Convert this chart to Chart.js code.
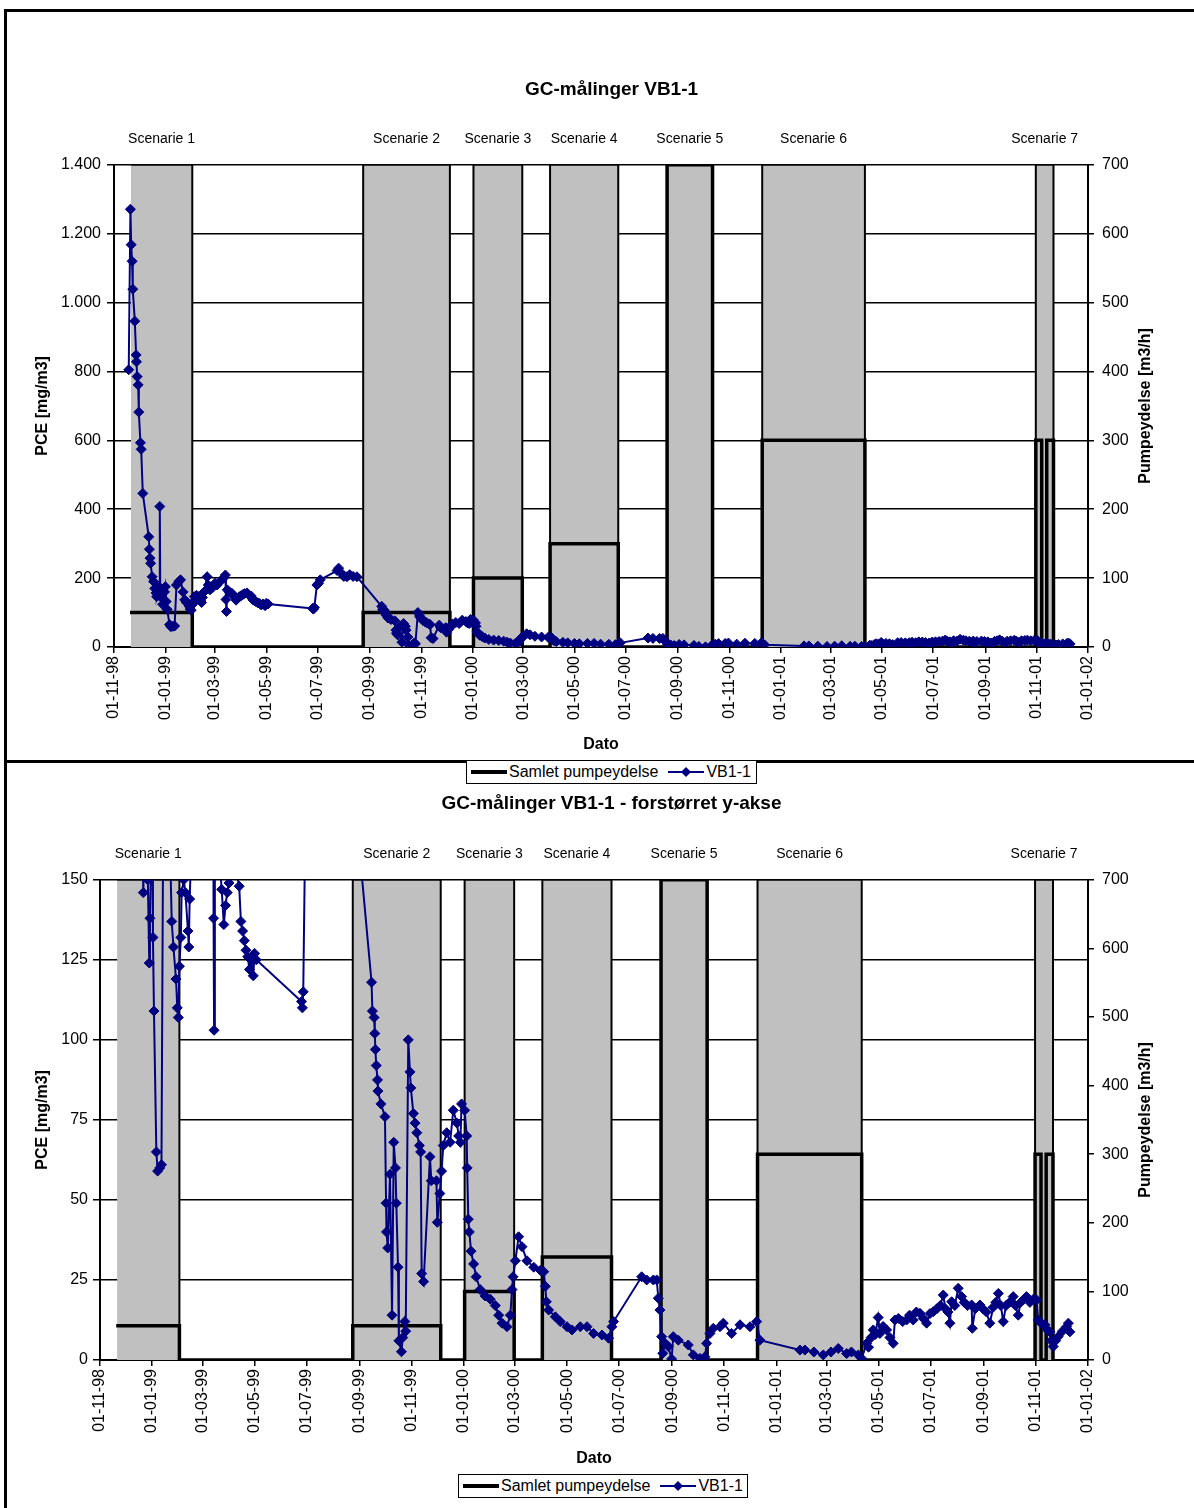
<!DOCTYPE html>
<html>
<head>
<meta charset="utf-8">
<script src="https://cdn.jsdelivr.net/npm/chart.js@4/dist/chart.umd.min.js"></script>
<style>
  body { margin: 0; width: 1194px; height: 1508px; overflow: hidden; background: #fff; position: relative; }
  .frame { position: absolute; left: 4px; width: 1300px; border-top: 3px solid #000; border-left: 3px solid #000; }
  canvas { position: absolute; left: 0; z-index: 1; }
  .legend {
    position: absolute; z-index: 2; box-sizing: border-box; height: 24px;
    border: 1px solid #000; background: #fff; display: flex; align-items: center;
    padding: 0 4px; font: 16px "Liberation Sans", Arial, sans-serif; white-space: nowrap;
  }
  .legend svg { margin-right: 2px; }
  .legend .key + .key { margin-left: 10px; }
  .key { display: flex; align-items: center; }
</style>
</head>
<body>
<div class="frame" style="top:9px;height:748px"></div>
<div class="frame" style="top:760px;height:760px"></div>
<canvas id="mainChart" width="1194" height="760" style="top:0"></canvas>
<canvas id="zoomChart" width="1194" height="746" style="top:762px"></canvas>

<div class="legend" style="left:466px;top:760px;width:291px">
  <span class="key"><svg width="36" height="10"><line x1="0" y1="5" x2="36" y2="5" stroke="#000" stroke-width="4"/></svg>Samlet pumpeydelse</span>
  <span class="key"><svg width="36" height="12"><line x1="0" y1="6" x2="36" y2="6" stroke="#000080" stroke-width="2"/><path d="M18 1 L23 6 L18 11 L13 6 Z" fill="#000080"/></svg>VB1-1</span>
</div>
<div class="legend" style="left:458px;top:1474px;width:290px">
  <span class="key"><svg width="36" height="10"><line x1="0" y1="5" x2="36" y2="5" stroke="#000" stroke-width="4"/></svg>Samlet pumpeydelse</span>
  <span class="key"><svg width="36" height="12"><line x1="0" y1="6" x2="36" y2="6" stroke="#000080" stroke-width="2"/><path d="M18 1 L23 6 L18 11 L13 6 Z" fill="#000080"/></svg>VB1-1</span>
</div>

<script>
// x values are days counted from 01-11-98
const tickDays = [0, 61, 120, 181, 242, 304, 365, 426, 486, 547, 608, 670, 731, 792, 851, 912, 973, 1035, 1096, 1157];
const tickLabels = ['01-11-98', '01-01-99', '01-03-99', '01-05-99', '01-07-99', '01-09-99', '01-11-99',
    '01-01-00', '01-03-00', '01-05-00', '01-07-00', '01-09-00', '01-11-00', '01-01-01', '01-03-01',
    '01-05-01', '01-07-01', '01-09-01', '01-11-01', '01-01-02'];

const scenarioNames = ['Scenarie 1', 'Scenarie 2', 'Scenarie 3', 'Scenarie 4', 'Scenarie 5', 'Scenarie 6', 'Scenarie 7'];
const scenarioStart = [20, 296, 427, 518, 657, 770, 1095];
const scenarioEnd = [93, 399, 485, 599, 711, 892, 1116];

// pumping periods, scenario 7 was run as two pulses
const pumpStart = [19, 296, 427, 518, 657, 770, 1095, 1108];
const pumpEnd = [93, 399, 485, 599, 711, 892, 1102, 1116];
const pumpRate = [50, 50, 100, 150, 700, 300, 300, 300];

// GC measurements VB1-1
const sampleDays = [
    17.5, 19.5, 20.4, 21.5, 22.3, 24.7, 26.3, 26.7, 27.5, 28.7,
    29.5, 31.4, 32.3, 34.2, 41.3, 42.0, 42.8, 43.5, 45.3, 47,
    48.5, 50, 50.7, 52, 53.5, 54.4, 55, 56, 57.7, 58.5,
    60, 61, 62, 63.2, 66, 67.5, 70, 72, 74.2, 77,
    79, 82, 84, 86, 89, 90.5, 91.7, 93, 94.7, 95.6,
    98, 100, 103, 104, 105, 107, 110.6, 112, 114, 117,
    120, 122.5, 126, 130, 132.3, 133, 133.6, 134.5, 137, 140,
    142.5, 145, 147, 149, 151, 153, 155, 158, 160, 163,
    165, 167, 169, 171, 173, 175, 177, 179.5, 181, 183,
    236, 237, 238, 241, 243, 245, 265, 266.8, 270, 273,
    276.7, 280, 284, 288.6, 318, 319, 321, 321.8, 322.5, 323.5,
    325, 325.5, 329, 333.7, 335, 335.5, 337, 339.6, 342, 344,
    346, 347, 349, 350, 353, 354.5, 357, 358, 361, 363,
    364, 367, 369, 371, 374, 375.5, 376.7, 379, 386.4, 388,
    394, 395, 398, 400, 402, 406, 410, 413.7, 418, 420,
    422, 423.4, 427, 429.4, 430, 431.3, 432.5, 434.5, 437.5, 440.5,
    445.2, 451, 457, 462.9, 466.9, 470.8, 476.6, 480.5, 482.5, 483.7,
    486.4, 490.2, 494.2, 500, 507.9, 515.7, 519.6, 521.5, 522.7, 525.4,
    533.2, 539, 546.9, 552.7, 562.4, 570.3, 578, 587.8, 595.6, 599.5,
    601.4, 634.3, 640.2, 648, 652, 653.8, 655.7, 657.7, 659, 661.6,
    665.5, 669.4, 671.3, 677.2, 688.9, 694.8, 702.6, 708.4, 710.4, 714.3,
    718.2, 726, 729.9, 739.7, 749.5, 761.2, 769, 772.8, 819.7, 825.5,
    836, 847, 856, 864.5, 874.4, 880, 888, 892, 897.8, 900,
    903, 905.5, 908, 911.3, 913.3, 917, 921.2, 925, 928.9, 930.9,
    935, 940, 944.6, 948, 952.3, 956, 960.2, 964, 968, 972,
    975.8, 980, 984, 987.5, 990, 993, 995.3, 997.3, 1001, 1005,
    1009, 1012, 1016, 1020.7, 1021.5, 1025, 1030.4, 1034, 1038, 1042,
    1046, 1049, 1052, 1055, 1057.7, 1061, 1065, 1069.4, 1072, 1075.3,
    1078, 1082, 1085, 1089, 1093, 1096.8, 1098.7, 1102, 1106.6, 1109,
    1112.4, 1114, 1116.3, 1119, 1122, 1127, 1132, 1134, 1135.8
];
const pceValues = [
    805, 1271, 1168, 1120, 1039, 946, 848, 828, 785, 761,
    682, 593, 574, 446, 320, 284, 258, 243, 204, 190,
    170, 157, 146, 160, 175, 408, 157, 150, 124, 138,
    160, 175, 132, 109, 65, 59, 60, 61, 180, 190,
    195, 160, 137, 129, 119, 110, 107, 123, 132, 146,
    150, 146, 134, 129, 144, 160, 204, 180, 166, 172,
    185, 180, 190, 200, 209, 138, 103, 166, 160, 156,
    147, 136, 142, 146, 149, 152, 155, 157, 152, 148,
    137, 134, 131, 128, 126, 122, 125, 120, 127, 125,
    112, 110, 115, 180, 185, 195, 222, 229, 215, 205,
    204, 210, 205, 204, 118, 109, 107, 102, 97, 92,
    87.5, 84, 80, 76, 49, 40, 35, 58, 14, 68,
    60, 49, 29, 6, 2.6, 7, 12, 9, 100, 90,
    85, 77, 74, 71, 67, 65, 27, 24.5, 63.5, 56,
    56, 43, 52, 59, 67, 71, 68, 78, 74, 70,
    68, 80, 78, 70, 60, 44, 40, 34, 30, 26,
    22, 20, 19, 17, 14, 11.5, 10.4, 14, 22, 26,
    31, 38.5, 35.4, 31, 29, 28, 27.6, 23, 18.2, 15.6,
    13.5, 12, 10.4, 9.4, 10.4, 10.4, 8.3, 7.8, 6.8, 10.4,
    12, 26, 25, 25, 25, 19.3, 15.6, 7.3, 2.1, 5.2,
    4.2, 0.3, 7.3, 6.2, 4.7, 1.6, 0.5, 1, 5.2, 8.3,
    9.9, 10.4, 11.5, 8.3, 11, 10.4, 12, 6.2, 3.1, 3.1,
    2.5, 1.6, 2.5, 3.6, 2.0, 2.5, 1.6, 0.5, 5.2, 4,
    7, 9.4, 8, 13.3, 8.3, 10.5, 9.4, 7, 5.2, 12.5,
    13, 12, 12.5, 14, 12.5, 15, 14.6, 13, 11.5, 14.5,
    15.1, 16, 17, 20.3, 16, 15, 11.5, 18.2, 17, 22.4,
    19.8, 18, 17, 17.2, 9.9, 16, 17.2, 16, 15, 11.5,
    16.5, 18, 20.8, 17, 12, 17, 18, 19.8, 17, 14,
    18, 19, 19.8, 18, 19, 18.75, 12.5, 11.5, 11, 9.5,
    8.8, 6, 4.2, 6, 7.3, 9, 10.4, 11.5, 8.8
];

const PUMP_MAX = 700;
const FONT = '"Liberation Sans", Arial, sans-serif';
Chart.defaults.font.family = FONT;
Chart.defaults.color = '#000';

function pceData() {
    return sampleDays.map((d, i) => ({x: d, y: pceValues[i]}));
}

// step line for total pumping rate
function pumpData() {
    const pts = [];
    pumpStart.forEach((s, i) => {
        if (i > 0) pts.push({x: s, y: 0});
        pts.push({x: s, y: pumpRate[i]});
        pts.push({x: pumpEnd[i], y: pumpRate[i]});
        pts.push({x: pumpEnd[i], y: 0});
    });
    return pts;
}

// grey bands marking the scenario periods
function scenarioData() {
    const pts = [];
    scenarioStart.forEach((s, i) => {
        if (i > 0) pts.push({x: s, y: 0});
        pts.push({x: s, y: PUMP_MAX});
        pts.push({x: scenarioEnd[i], y: PUMP_MAX});
        pts.push({x: scenarioEnd[i], y: 0});
    });
    return pts;
}

function thousands(v) {
    return v >= 1000 ? Math.floor(v / 1000) + '.' + String(v % 1000).padStart(3, '0') : String(v);
}

const scenarioLabels = {
    id: 'scenarioLabels',
    afterDraw(chart) {
        const {ctx, chartArea, scales} = chart;
        ctx.save();
        ctx.fillStyle = '#000';
        ctx.textAlign = 'center';
        ctx.textBaseline = 'middle';
        ctx.font = '14px ' + FONT;
        scenarioNames.forEach((name, i) => {
            const x = (scales.x.getPixelForValue(scenarioStart[i]) + scales.x.getPixelForValue(scenarioEnd[i])) / 2;
            ctx.fillText(name, x, chartArea.top - 26);
        });
        // right axis title reads bottom to top
        ctx.font = 'bold 16px ' + FONT;
        ctx.translate(chartArea.right + 58, (chartArea.top + chartArea.bottom) / 2);
        ctx.rotate(-Math.PI / 2);
        ctx.fillText('Pumpeydelse [m3/h]', 0, 0);
        ctx.restore();
    }
};

function makeChart(id, cfg) {
    return new Chart(document.getElementById(id), {
        type: 'line',
        data: {
            datasets: [{
                label: 'VB1-1',
                data: pceData(),
                yAxisID: 'y',
                borderColor: '#000080',
                borderWidth: 2,
                pointStyle: 'rectRot',
                pointRadius: 5,
                pointBackgroundColor: '#000080',
                pointBorderColor: '#000080',
                pointBorderWidth: 1,
                order: 0
            }, {
                label: 'Samlet pumpeydelse',
                data: pumpData(),
                yAxisID: 'y1',
                borderColor: '#000',
                borderWidth: 3.5,
                pointRadius: 0,
                borderJoinStyle: 'miter',
                order: 1
            }, {
                label: 'Scenarier',
                data: scenarioData(),
                yAxisID: 'y1',
                borderColor: '#000',
                borderWidth: 2,
                backgroundColor: '#c0c0c0',
                fill: 'origin',
                pointRadius: 0,
                borderJoinStyle: 'miter',
                order: 2
            }]
        },
        options: {
            responsive: false,
            animation: false,
            layout: {padding: {left: 29, right: 0, top: 0, bottom: cfg.padBottom}},
            plugins: {
                legend: {display: false},
                tooltip: {enabled: false},
                title: {
                    display: true,
                    text: cfg.title,
                    color: '#000',
                    font: {size: 19, weight: 'bold'},
                    padding: {top: cfg.titleTop, bottom: cfg.titleBottom}
                }
            },
            scales: {
                x: {
                    type: 'linear',
                    min: 0,
                    max: 1157,
                    afterBuildTicks: axis => { axis.ticks = tickDays.map(v => ({value: v})); },
                    afterFit: axis => { axis.height = cfg.xHeight; },
                    ticks: {
                        autoSkip: false,
                        minRotation: 90,
                        maxRotation: 90,
                        padding: 3,
                        font: {size: 16},
                        callback: (v, i) => tickLabels[i]
                    },
                    grid: {drawOnChartArea: false, color: '#000', lineWidth: 1.5, tickLength: 6},
                    border: {color: '#000', width: 2},
                    title: {display: true, text: 'Dato', font: {size: 16, weight: 'bold'}, padding: {top: 0, bottom: 2}}
                },
                y: {
                    position: 'left',
                    min: 0,
                    max: cfg.yMax,
                    afterFit: axis => { axis.width = cfg.yWidth; },
                    ticks: {stepSize: cfg.yStep, padding: cfg.yPad, font: {size: 16}, callback: v => thousands(v)},
                    grid: {color: '#000', lineWidth: 1.5, tickLength: 7},
                    border: {color: '#000', width: 2},
                    title: {display: true, text: 'PCE [mg/m3]', font: {size: 16, weight: 'bold'}, padding: {top: 4, bottom: 0}}
                },
                y1: {
                    position: 'right',
                    min: 0,
                    max: PUMP_MAX,
                    afterFit: axis => { axis.width = 106; },
                    ticks: {stepSize: 100, padding: 8, font: {size: 16}},
                    grid: {drawOnChartArea: false, color: '#000', lineWidth: 1.5, tickLength: 6},
                    border: {color: '#000', width: 2}
                }
            }
        },
        plugins: [scenarioLabels]
    });
}

window.onload = function() {
    // full scale
    makeChart('mainChart', {
        title: 'GC-målinger VB1-1',
        titleTop: 78, titleBottom: 64,
        padBottom: 4, xHeight: 109,
        yMax: 1400, yStep: 200, yWidth: 85, yPad: 6
    });
    // enlarged y-axis
    makeChart('zoomChart', {
        title: 'GC-målinger VB1-1 - forstørret y-akse',
        titleTop: 30, titleBottom: 65,
        padBottom: 38, xHeight: 110,
        yMax: 150, yStep: 25, yWidth: 71, yPad: 5
    });
};
</script>
</body>
</html>
